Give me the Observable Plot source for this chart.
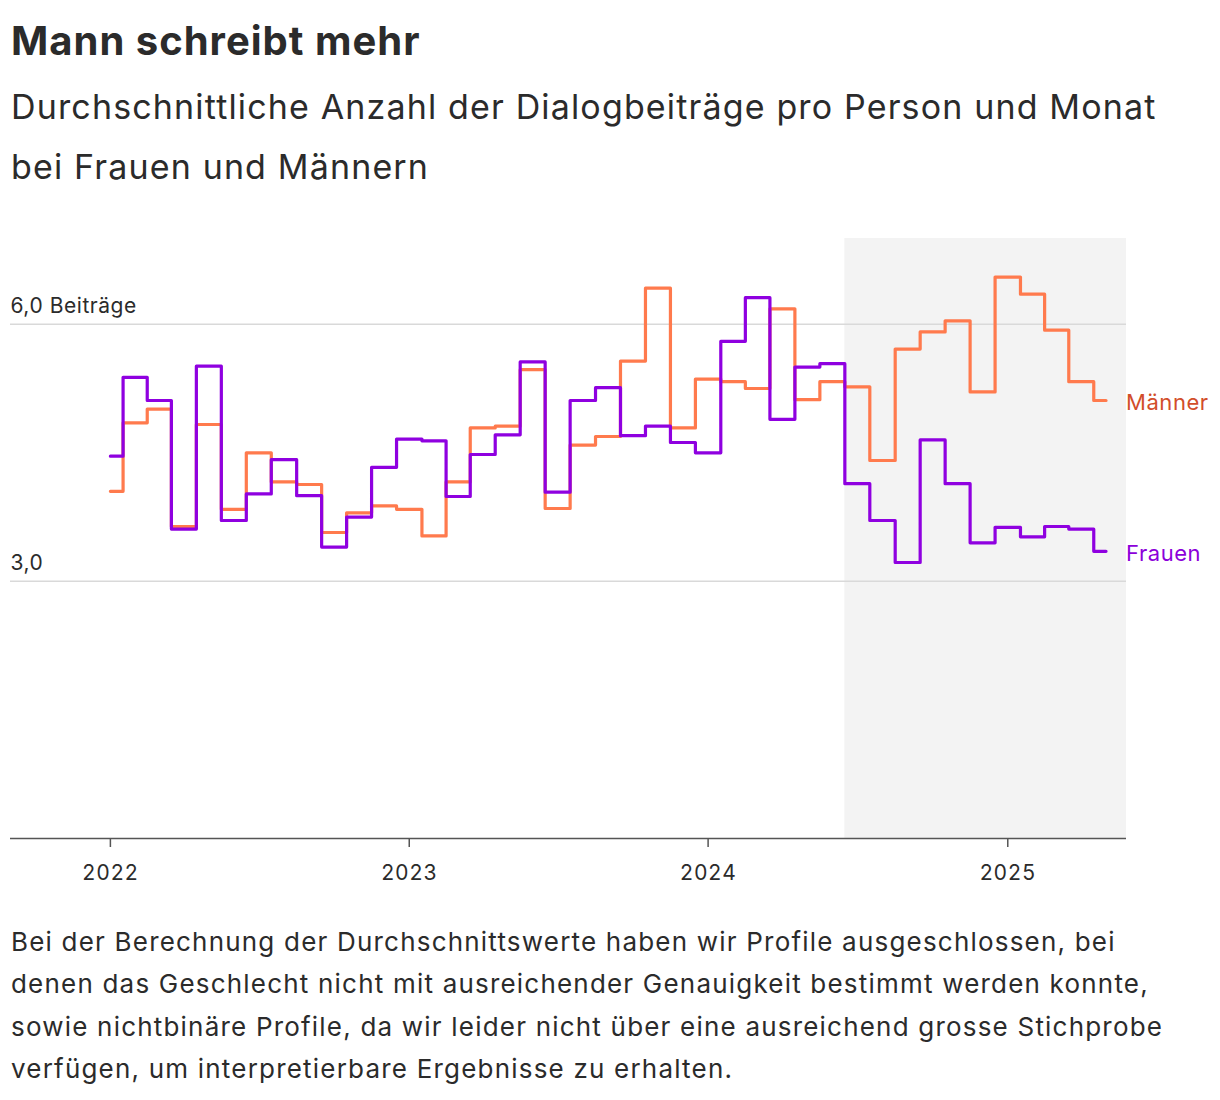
<!DOCTYPE html>
<html><head><meta charset="utf-8">
<script src="https://cdn.jsdelivr.net/npm/d3@7"></script>
<script src="https://cdn.jsdelivr.net/npm/@observablehq/plot@0.6"></script>
<style>
body{margin:0;background:#fff;font-family:Inter,"Noto Sans",sans-serif;color:#2b2b2b;}
#wrap{position:relative;width:1220px;height:1100px;overflow:hidden;}
h1{position:absolute;left:11px;top:17px;margin:0;font-size:40px;font-weight:700;line-height:48px;letter-spacing:1px;white-space:nowrap;}
.sub{position:absolute;left:11px;top:77px;margin:0;font-size:34px;line-height:60px;font-weight:400;letter-spacing:1.15px;white-space:nowrap;}
#chart{position:absolute;left:0;top:210px;}
#chart svg text{letter-spacing:0.55px;}
.cap{position:absolute;left:11px;top:921px;font-size:26px;line-height:42.3px;letter-spacing:1.2px;white-space:nowrap;}
</style></head>
<body><div id="wrap">
<h1>Mann schreibt mehr</h1>
<div class="sub">Durchschnittliche Anzahl der Dialogbeiträge pro Person und Monat<br>bei Frauen und Männern</div>
<div id="chart"></div>
<div class="cap">Bei der Berechnung der Durchschnittswerte haben wir Profile ausgeschlossen, bei<br>denen das Geschlecht nicht mit ausreichender Genauigkeit bestimmt werden konnte,<br>sowie nichtbinäre Profile, da wir leider nicht über eine ausreichend grosse Stichprobe<br>verfügen, um interpretierbare Ergebnisse zu erhalten.</div>
</div>
<script>
const months = ["2022-01","2022-02","2022-03","2022-04","2022-05","2022-06","2022-07","2022-08","2022-09","2022-10","2022-11","2022-12",
"2023-01","2023-02","2023-03","2023-04","2023-05","2023-06","2023-07","2023-08","2023-09","2023-10","2023-11","2023-12",
"2024-01","2024-02","2024-03","2024-04","2024-05","2024-06","2024-07","2024-08","2024-09","2024-10","2024-11","2024-12",
"2025-01","2025-02","2025-03","2025-04","2025-05"];
const maenner = [4.05,4.85,5.01,3.64,4.83,3.84,4.50,4.16,4.13,3.57,3.80,3.88,
3.84,3.53,4.16,4.79,4.81,5.47,3.85,4.59,4.69,5.57,6.42,4.79,
5.36,5.33,5.25,6.18,5.12,5.33,5.27,4.41,5.71,5.91,6.04,5.21,
6.55,6.35,5.93,5.33,5.11];
const frauen = [4.46,5.38,5.11,3.61,5.51,3.71,4.02,4.42,4.00,3.40,3.75,4.33,
4.66,4.64,3.99,4.48,4.71,5.56,4.04,5.11,5.26,4.70,4.81,4.62,
4.50,5.80,6.31,4.89,5.50,5.54,4.14,3.71,3.22,4.65,4.14,3.45,
3.63,3.52,3.64,3.61,3.35];
const seriesNames = ["Männer","Frauen"];
const gridValues = [3,6];
const gridLabels = ["3,0","6,0 Beiträge"];
const xDomain = ["2021-09-01","2025-05-26"];
const shadeStart = "2024-06-16";

const parse = d3.utcParse("%Y-%m");
const parseDay = d3.utcParse("%Y-%m-%d");
const dom = xDomain.map(parseDay);
const mData = months.map((m,i)=>({date:parse(m), value:maenner[i]}));
const fData = months.map((m,i)=>({date:parse(m), value:frauen[i]}));
const shade = [{start:parseDay(shadeStart), end:dom[1]}];
const colM = "#ff7a4d", colF = "#8f00e0";

const chart = Plot.plot({
  width:1220, height:688,
  marginLeft:10, marginRight:94, marginTop:28, marginBottom:60,
  x:{type:"utc", domain:dom},
  y:{domain:[0,7], axis:null},
  style:{fontFamily:'Inter,"Noto Sans",sans-serif', fontSize:"21px", color:"#2b2b2b", background:"transparent"},
  marks:[
    Plot.rect(shade,{x1:"start",x2:"end",y1:0,y2:7,fill:"#f3f3f3"}),
    Plot.ruleY(gridValues,{stroke:"#d9d9d9",strokeWidth:1.5}),
    Plot.text(gridValues,{x:()=>dom[0],y:d=>d,text:(d,i)=>gridLabels[i],textAnchor:"start",dy:-18,fontSize:21,fill:"#2b2b2b"}),
    Plot.line(mData,{x:"date",y:"value",curve:"step",stroke:colM,strokeWidth:3.2}),
    Plot.line(fData,{x:"date",y:"value",curve:"step",stroke:colF,strokeWidth:3.2}),
    Plot.text([mData[mData.length-1]],{x:"date",y:"value",text:()=>seriesNames[0],textAnchor:"start",dx:20,dy:2,fontSize:22,fill:"#d24d2a"}),
    Plot.text([fData[fData.length-1]],{x:"date",y:"value",text:()=>seriesNames[1],textAnchor:"start",dx:20,dy:3,fontSize:22,fill:"#8c00da"}),
    Plot.ruleY([0],{stroke:"#555",strokeWidth:1.5}),
    Plot.axisX({ticks:d3.utcYear.every(1),tickFormat:"%Y",tickSize:9,tickPadding:18,fontSize:21,stroke:"#555",strokeWidth:1.5,fill:"#2b2b2b"})
  ]
});
document.getElementById("chart").appendChild(chart);
</script>
</body></html>
